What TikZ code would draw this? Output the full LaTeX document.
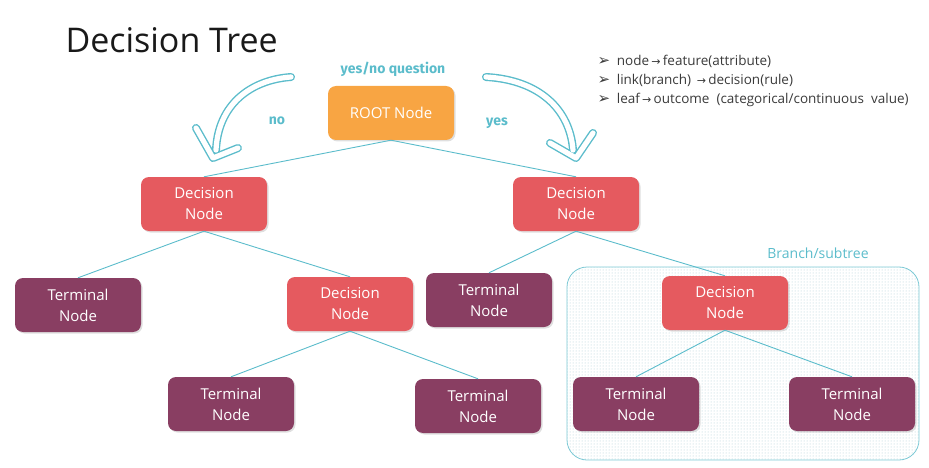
\documentclass[tikz,border=0pt]{standalone}
\usepackage{fontspec}
\setmainfont{Open Sans}
\newfontfamily\symfont{DejaVu Sans}
\newfontfamily\boldfont{Fira Sans}
\usepackage{tikz}
\usetikzlibrary{shapes,arrows,positioning,shadows,patterns}

\definecolor{linkblue}{HTML}{5BBCCB}
\definecolor{rootorange}{HTML}{F8A543}
\definecolor{decred}{HTML}{E55A5F}
\definecolor{termplum}{HTML}{893E62}
\definecolor{dotblue}{HTML}{A9C9D3}
\definecolor{listgrey}{HTML}{3A3A3A}

\newcommand{\bul}{{\symfont\fontsize{15}{19}\selectfont ➢}\enspace}
\newcommand{\arr}{\,{\symfont\fontsize{11}{19}\selectfont →}\,}

\begin{document}
\begin{tikzpicture}[x=1pt, y=-1pt,
    box/.style={rectangle, rounded corners=8pt, minimum width=126pt, minimum height=54pt,
        text=white, align=center, font=\fontsize{15}{21}\selectfont,
        drop shadow={opacity=0.25, shadow xshift=1.5pt, shadow yshift=-1.5pt}},
    rootbox/.style={box, fill=rootorange},
    decision/.style={box, fill=decred},
    terminal/.style={box, fill=termplum},
    link/.style={draw=linkblue, line width=0.9pt},
    bigarrow/.style={line width=8pt, draw=linkblue, line cap=round, line join=round},
    bigarrowin/.style={line width=5.2pt, draw=white, line cap=round, line join=round},
    tag/.style={text=linkblue, font=\boldfont\bfseries\fontsize{14}{16}\selectfont}]
    \useasboundingbox (0,0) rectangle (929,468);

    % title and notes
    \node (title) [anchor=west, font=\fontsize{34}{40}\selectfont, text=black!90] at (62,40) {Decision Tree};
    \node (notes) [anchor=north west, align=left, text=listgrey, font=\fontsize{13.5}{19}\selectfont] at (594,52)
        {\bul node\arr feature(attribute)\\
         \bul link(branch) \arr decision(rule)\\
         \bul leaf\arr outcome\ \ (categorical/continuous\ \ value)};

    % subtree frame
    \node (subtree) [rectangle, rounded corners=20pt, draw=linkblue!80, line width=0.8pt,
        pattern=dots, pattern color=dotblue, minimum width=352pt, minimum height=193pt] at (743,363.5) {};
    \node (subtreelabel) [text=linkblue, font=\fontsize{14}{16}\selectfont] at (818,253) {Branch/subtree};

    % tree nodes
    \node (root) [rootbox] at (391,113) {ROOT Node};
    \node (decL) [decision] at (204,204) {Decision\\Node};
    \node (decR) [decision] at (576,204) {Decision\\Node};
    \node (termA) [terminal] at (78,305) {Terminal\\Node};
    \node (decLR) [decision] at (350,304) {Decision\\Node};
    \node (termB) [terminal] at (489,300) {Terminal\\Node};
    \node (decRR) [decision] at (725,303) {Decision\\Node};
    \node (termC) [terminal] at (231,404) {Terminal\\Node};
    \node (termD) [terminal] at (478,406) {Terminal\\Node};
    \node (termE) [terminal] at (636,404) {Terminal\\Node};
    \node (termF) [terminal] at (852,404) {Terminal\\Node};

    % links
    \draw[link] (root.south) -- (decL.north);
    \draw[link] (root.south) -- (decR.north);
    \draw[link] (decL.south) -- (termA.north);
    \draw[link] (decL.south) -- (decLR.north);
    \draw[link] (decR.south) -- (termB.north);
    \draw[link] (decR.south) -- (decRR.north);
    \draw[link] (decLR.south) -- (termC.north);
    \draw[link] (decLR.south) -- (termD.north);
    \draw[link] (decRR.south) -- (termE.north);
    \draw[link] (decRR.south) -- (termF.north);

    % question labels
    \node (question) [tag] at (393,69) {yes/no question};
    \node (nolabel) [tag] at (277,121) {no};
    \node (yeslabel) [tag] at (497,123) {yes};

    % hollow curved arrows
    \coordinate (noA) at (291,77);
    \coordinate (noB) at (216,150);
    \coordinate (noTip) at (213,158);
    \coordinate (yesA) at (486,77);
    \coordinate (yesB) at (573,150);
    \coordinate (yesTip) at (576,158);
    \draw[bigarrow] (noA) .. controls (250,80) and (218,105) .. (noB);
    \draw[bigarrow] (196,128) -- (noTip) -- (238,148);
    \draw[bigarrowin] (noA) .. controls (250,80) and (218,105) .. (noB);
    \draw[bigarrowin] (196,128) -- (noTip) -- (238,148);
    \draw[bigarrow] (yesA) .. controls (540,80) and (570,110) .. (yesB);
    \draw[bigarrow] (550,143) -- (yesTip) -- (593,133);
    \draw[bigarrowin] (yesA) .. controls (540,80) and (570,110) .. (yesB);
    \draw[bigarrowin] (550,143) -- (yesTip) -- (593,133);
\end{tikzpicture}
\end{document}
